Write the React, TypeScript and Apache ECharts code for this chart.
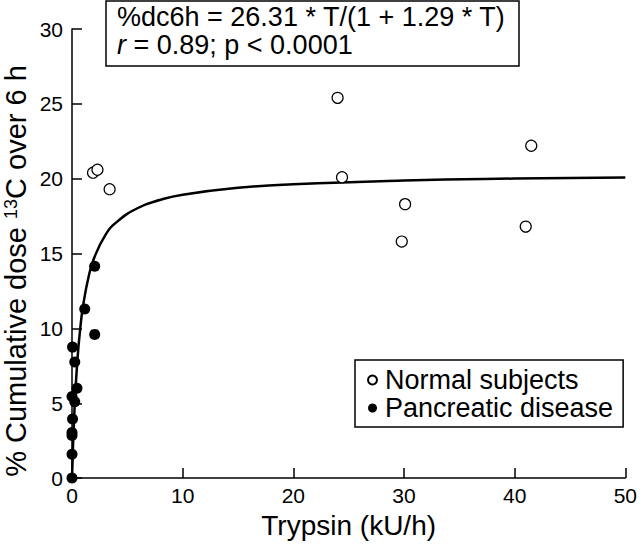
import React, { useEffect, useRef } from "react";
import * as echarts from "echarts";

const FONT = "'Liberation Sans', Arial, Helvetica, sans-serif";

// Normal subjects (open circles)
const normalX = [1.9, 2.3, 3.4, 24.0, 24.4, 29.8, 30.1, 41.0, 41.5];
const normalY = [20.4, 20.6, 19.3, 25.4, 20.1, 15.8, 18.3, 16.8, 22.2];

// Pancreatic disease (filled circles)
const pancX = [0, 0, 0, 0, 0.05, 0, 0.25, 0.45, 0.25, 0.05, 1.15, 2.05, 2.05];
const pancY = [0, 1.6, 2.85, 3.05, 3.95, 5.45, 5.1, 6.0, 7.75, 8.75, 11.3, 9.6, 14.15];

// Fitted curve
const curveX = [0, 0.1, 0.25, 0.5, 0.75, 1, 1.5, 2, 3, 4, 6, 8, 10, 15, 20, 30, 40, 50];
const curveY = [0, 2.33, 4.97, 8.0, 10.03, 11.49, 13.45, 14.7, 16.21, 17.08, 18.06, 18.59, 18.93, 19.39, 19.63, 19.88, 20.01, 20.08];

const xTicks = { min: 0, max: 50, interval: 10 };
const yTicks = { min: 0, max: 30, interval: 5 };

const xTitle = "Trypsin (kU/h)";
const yTitle = "% Cumulative dose {sup|13}C over 6 h";
const equationLine1 = "%dc6h = 26.31 * T/(1 + 1.29 * T)";
const equationLine2 = "{i|r} = 0.89; p < 0.0001";
const seriesNames = ["Normal subjects", "Pancreatic disease"];

export default function App() {
  const ref = useRef<HTMLDivElement>(null);
  useEffect(() => {
    if (!ref.current) return;
    const chart = echarts.init(ref.current, null, { renderer: "svg" });
    const axisCommon = {
      axisLine: { show: true, lineStyle: { color: "#000", width: 1.5 } },
      axisTick: { show: true, inside: true, length: 10, lineStyle: { color: "#000", width: 1.5 } },
      splitLine: { show: false },
      axisLabel: { color: "#000", fontSize: 21, fontFamily: FONT },
    };
    chart.setOption({
      animation: false,
      backgroundColor: "#fff",
      textStyle: { fontFamily: FONT },
      grid: { left: 72, right: 12, top: 29, bottom: 61, containLabel: false },
      xAxis: {
        type: "value",
        ...xTicks,
        ...axisCommon,
        axisLabel: { ...axisCommon.axisLabel, margin: 7 },
        name: xTitle,
        nameLocation: "middle",
        nameGap: 28,
        nameTextStyle: { color: "#000", fontSize: 28, fontFamily: FONT },
      },
      yAxis: {
        type: "value",
        ...yTicks,
        ...axisCommon,
        axisLabel: { ...axisCommon.axisLabel, margin: 9 },
      },
      legend: {
        data: seriesNames,
        orient: "vertical",
        left: 355,
        top: 360,
        padding: [6, 10, 5, 12],
        itemGap: 0,
        itemWidth: 9,
        itemHeight: 9,
        borderColor: "#000",
        borderWidth: 1.5,
        backgroundColor: "#fff",
        textStyle: { color: "#000", fontSize: 27, lineHeight: 28, fontFamily: FONT, padding: [0, 0, 0, 3] },
      },
      graphic: [
        {
          type: "rect",
          shape: { x: 106, y: 1, width: 413, height: 65 },
          style: { fill: "#fff", stroke: "#000", lineWidth: 1.5 },
          z: 10,
        },
        {
          type: "text",
          x: 117,
          y: 3,
          z: 11,
          style: {
            text: equationLine1 + "\n" + equationLine2,
            fontSize: 27,
            lineHeight: 28,
            fontFamily: FONT,
            fill: "#000",
            rich: {
              i: { fontStyle: "italic", fontSize: 27, lineHeight: 28, fontFamily: FONT, fill: "#000" },
            },
          },
        },
        {
          type: "text",
          x: 16,
          y: 271,
          rotation: Math.PI / 2,
          z: 11,
          style: {
            text: yTitle,
            fontSize: 29,
            lineHeight: 28,
            fontFamily: FONT,
            fill: "#000",
            align: "center",
            verticalAlign: "middle",
            rich: {
              sup: { fontSize: 18, fontFamily: FONT, fill: "#000", verticalAlign: "top", lineHeight: 28 },
            },
          },
        },
      ],
      series: [
        {
          type: "line",
          name: "fit",
          data: curveX.map((x, i) => [x, curveY[i]]),
          smooth: true,
          showSymbol: false,
          lineStyle: { color: "#000", width: 2.5 },
          z: 2,
          silent: true,
        },
        {
          type: "scatter",
          name: seriesNames[0],
          data: normalX.map((x, i) => [x, normalY[i]]),
          symbol: "circle",
          symbolSize: 11,
          itemStyle: { color: "#fff", borderColor: "#000", borderWidth: 1.2, opacity: 1 },
          z: 3,
        },
        {
          type: "scatter",
          name: seriesNames[1],
          data: pancX.map((x, i) => [x, pancY[i]]),
          symbol: "circle",
          symbolSize: 11,
          itemStyle: { color: "#000", borderColor: "#000", borderWidth: 0, opacity: 1 },
          z: 4,
        },
      ],
    });
    return () => chart.dispose();
  }, []);
  return (
    <div
      ref={ref}
      style={{ position: "absolute", left: 0, top: 0, width: 640, height: 544 }}
    />
  );
}
